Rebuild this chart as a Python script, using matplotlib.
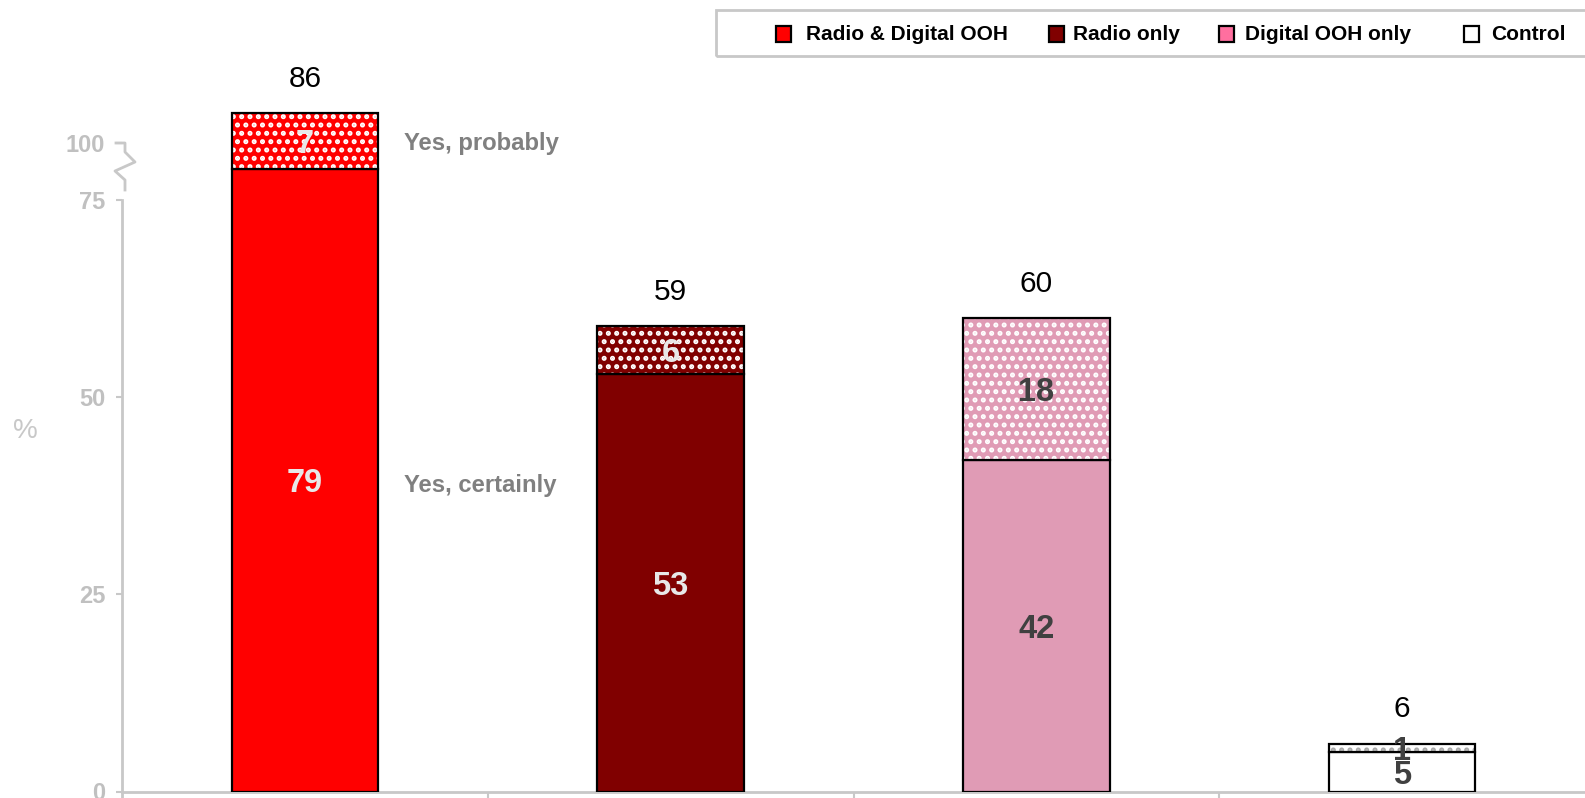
import matplotlib
matplotlib.use('Agg')
import numpy as np
import matplotlib.pyplot as plt
from matplotlib.patches import Rectangle
from matplotlib.lines import Line2D
from matplotlib.transforms import blended_transform_factory

plt.rcParams['font.family'] = ['Liberation Sans', 'DejaVu Sans']
plt.rcParams['hatch.linewidth'] = 2.4

# ---------------- data ----------------
categories = ['Radio & Digital OOH', 'Radio only', 'Digital OOH only', 'Control']
certainly = [79, 53, 42, 5]
probably = [7, 6, 18, 1]
totals = [86, 59, 60, 6]
segment_names = ['Yes, certainly', 'Yes, probably']
ytick_values = [0, 25, 50, 75]
ytick_labels = ['0', '25', '50', '75']
break_tick_value = 82.3
break_tick_label = '100'

# ---------------- styles ----------------
bar_colors = ['#FF0000', '#800000', '#E09BB5', '#FFFFFF']
legend_colors = ['#FF0000', '#800000', '#FF6F9F', '#FFFFFF']
dot_colors = ['#FFFFFF', '#FFFFFF', '#FFFFFF', '#A8A8A8']
label_colors = ['#E8E8E8', '#E8E8E8', '#404040', '#404040']
axis_grey = '#C8C8C8'
tick_text_grey = '#C0C0C0'

W, H = 1585, 798
fig = plt.figure(figsize=(W / 100, H / 100), dpi=100)
ax_left = 122 / W
ax_bottom = 6.5 / H
ax = fig.add_axes([ax_left, ax_bottom, 1 - ax_left, 1 - ax_bottom])
ax.set_xlim(-0.5, 3.5)
ax.set_ylim(0, 100.38)


def fpx(x, y):
    return x / W, 1 - y / H


x = np.arange(len(categories))
w = 0.40
ax.bar(x, certainly, w, color=bar_colors, edgecolor='black', linewidth=1.6, zorder=3)
ax.bar(x, probably, w, bottom=certainly, color=bar_colors, edgecolor=dot_colors,
       hatch='..', linewidth=0, zorder=3)
ax.bar(x, probably, w, bottom=certainly, fill=False, edgecolor='black',
       linewidth=1.6, zorder=4)

for i in range(len(categories)):
    ax.annotate(str(certainly[i]), (x[i], certainly[i] / 2), xytext=(0, -2.5),
                textcoords='offset points', ha='center', va='center',
                fontsize=23.5, fontweight='bold', color=label_colors[i], zorder=5)
    ax.annotate(str(probably[i]), (x[i], certainly[i] + probably[i] / 2),
                xytext=(0, -2.5), textcoords='offset points', ha='center',
                va='center', fontsize=23.5, fontweight='bold', color=label_colors[i],
                zorder=5)
    ax.annotate(str(totals[i]), (x[i], totals[i]), xytext=(0, 25),
                textcoords='offset points', ha='center', va='center', fontsize=21.5,
                color='black')

# segment annotations next to first bar
ax.annotate(segment_names[0], (x[0] + w / 2 + 0.07, certainly[0] / 2), xytext=(0, -4),
            textcoords='offset points', ha='left', va='center', fontsize=17.2,
            fontweight='bold', color='#808080')
ax.annotate(segment_names[1], (x[0] + w / 2 + 0.07, certainly[0] + probably[0] / 2),
            xytext=(0, -2), textcoords='offset points', ha='left', va='center',
            fontsize=17.2, fontweight='bold', color='#808080')

# axes styling
for s in ['top', 'right', 'left']:
    ax.spines[s].set_visible(False)
ax.spines['bottom'].set_color(axis_grey)
ax.spines['bottom'].set_linewidth(2)

ax.set_yticks(ytick_values + [break_tick_value])
ax.set_yticklabels(ytick_labels + [break_tick_label])
ax.tick_params(axis='y', length=4, width=1.5, color=axis_grey, labelcolor=tick_text_grey,
               labelsize=17, pad=8)
for lbl in ax.get_yticklabels():
    lbl.set_fontweight('bold')

ax.set_xticks([0.5, 1.5, 2.5])
ax.tick_params(axis='x', length=5, width=1.5, color=axis_grey, labelbottom=False,
               direction='out')

# y axis line (up to the break)
bt = blended_transform_factory(ax.transAxes, ax.transData)
ax.add_line(Line2D([0, 0], [-1, 75], transform=bt, color=axis_grey, lw=2,
                   clip_on=False))
# axis break zigzag
zz = [(125, 190), (125, 180), (115, 171), (135, 162), (125, 152), (125, 143), (116, 143)]
zx = [fpx(a, b)[0] for a, b in zz]
zy = [fpx(a, b)[1] for a, b in zz]
fig.add_artist(Line2D(zx, zy, transform=fig.transFigure, color=axis_grey, lw=2))

# % label
fig.text(*fpx(25, 431), '%', fontsize=20, color=axis_grey, ha='center', va='center')

# legend (manual)
lx0, ly0 = fpx(716, 56)
fig.add_artist(Rectangle((lx0, ly0), (1620 - 716) / W, 46 / H, transform=fig.transFigure,
                         fill=False, edgecolor=axis_grey, lw=2, clip_on=False))
marker_x = [783, 1056, 1226, 1471]
text_x = [806, 1073, 1245, 1491]
ly = 34
for i, name in enumerate(categories):
    mx, my = fpx(marker_x[i] - 7.5, ly + 8)
    fig.add_artist(Rectangle((mx, my), 15 / W, 16 / H, transform=fig.transFigure,
                             facecolor=legend_colors[i], edgecolor='black', lw=1.6))
    fig.text(*fpx(text_x[i], ly), name, fontsize=15, fontweight='bold', ha='left',
             va='center', color='black')

fig.savefig('out.png', dpi=100)
